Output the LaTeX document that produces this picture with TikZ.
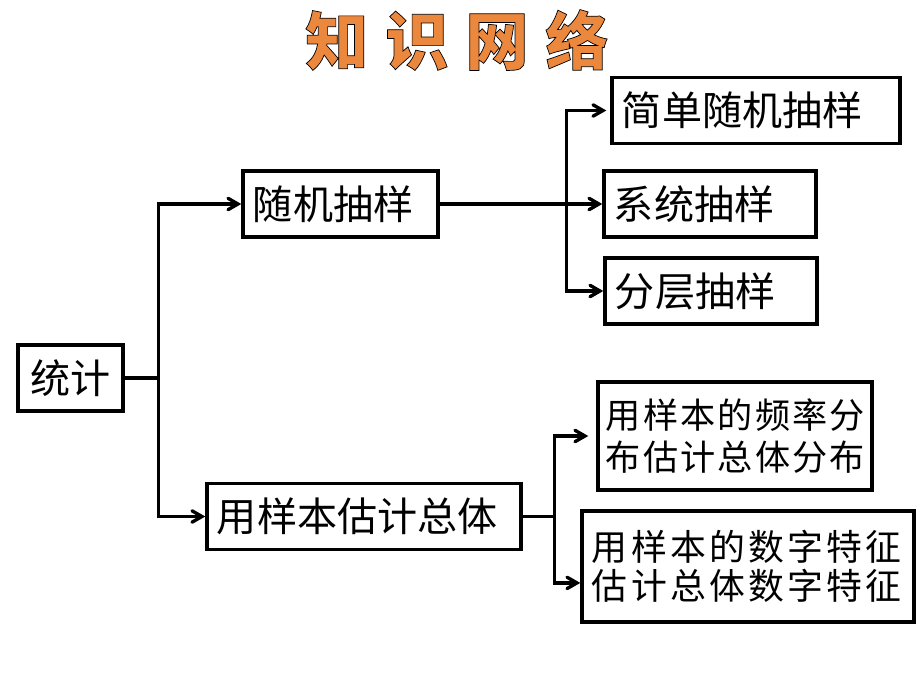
\documentclass[tikz,border=0pt]{standalone}
\usepackage{fontspec}
\setmainfont{Noto Sans CJK SC}
\newfontfamily\spacedcjk{Noto Sans CJK SC}[LetterSpace=6]
\newfontfamily\widecjk{Noto Sans CJK SC}[LetterSpace=9]
\usepackage{tikz}
\usetikzlibrary{arrows}
\usetikzlibrary{positioning}
\definecolor{titleorange}{RGB}{236,136,62}
\tikzstyle{box}=[rectangle,draw=black,inner xsep=0.25cm,inner ysep=0mm,minimum height=1.65cm,align=left,font=\fontsize{28.5}{34}\selectfont]
\tikzstyle{twoline}=[box,font=\spacedcjk\fontsize{25}{30}\selectfont]
\tikzstyle{title}=[text=titleorange,font=\fontsize{45}{50}\selectfont\bfseries]
\tikzstyle{arrow}=[->,>=angle 60]
\tikzset{every picture/.style={
    line width=2.4
  }
}
\begin{document}
\begin{tikzpicture}[x=0.025cm,y=-0.025cm]
      \useasboundingbox (0,0) rectangle (920,690);
      \node[title] at (457,40) (title) {\special{pdf:literal direct 0 0 0 RG 0.5 w 2 Tr}知\hspace{0.42cm}识\hspace{0.42cm}网\hspace{0.42cm}络\special{pdf:literal direct 0 Tr}};
      \node[box,text width=2.125cm,align=center] at (70.5,378) (tongji) {统计};
      \node[box,text width=4.375cm] at (340.5,204) (suiji) {随机抽样};
      \node[box,text width=7.35cm] at (364,516.5) (guji) {用样本估计总体};
      \node[box,text width=6.7cm] at (756,110.5) (jiandan) {简单随机抽样};
      \node[box,text width=4.8cm] at (710,204) (xitong) {系统抽样};
      \node[box,text width=4.8cm] at (711,291) (fenceng) {分层抽样};
      \node[twoline,inner xsep=0.2cm,text width=6.45cm,minimum height=2.7cm] at (735,436) (pinlv) {用样本的频率分\\布估计总体分布};
      \node[twoline,text width=7.8cm,minimum height=2.775cm,font=\widecjk\fontsize{25.5}{27.5}\selectfont] at (748,566.5) (shuzi) {用样本的数字特征\\估计总体数字特征};
      \draw[arrow] (tongji.east) -- ++(34,0) |- (suiji.west);
      \draw[arrow] (tongji.east) -- ++(34,0) |- (guji.west);
      \draw[arrow] (suiji.east) -- (xitong.west);
      \draw[arrow] (suiji.east) -- ++(127,0) |- ([xshift=-0.1cm]jiandan.west);
      \draw[arrow] (suiji.east) -- ++(127,0) |- (fenceng.west);
      \draw[arrow] (guji.east) -- ++(32,0) |- ([xshift=-0.2cm]pinlv.west);
      \draw[arrow] (guji.east) -- ++(32,0) |- ([yshift=-0.41cm]shuzi.west);
    \end{tikzpicture}
\end{document}
